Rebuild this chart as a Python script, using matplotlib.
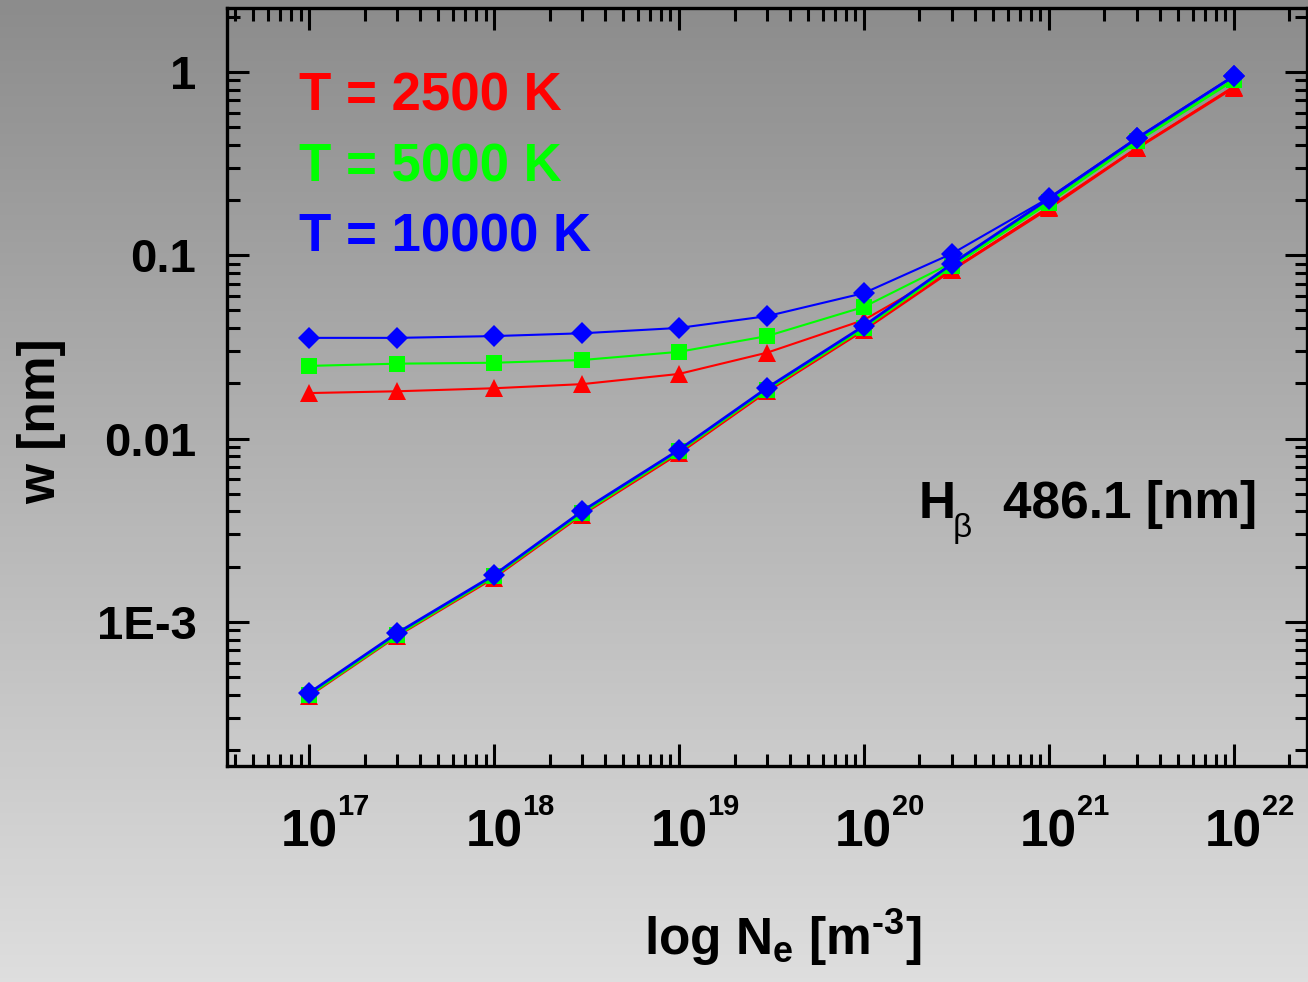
import numpy as np
import matplotlib
matplotlib.use("Agg")
import matplotlib.pyplot as plt

plt.rcParams['font.family'] = ['Liberation Sans', 'DejaVu Sans']
plt.rcParams['font.weight'] = 'bold'
plt.rcParams['mathtext.fontset'] = 'custom'
plt.rcParams['mathtext.rm'] = 'Liberation Sans:bold'
plt.rcParams['mathtext.it'] = 'Liberation Sans:bold'
plt.rcParams['mathtext.bf'] = 'Liberation Sans:bold'

# electron density [m^-3]
ne = [1e17, 3e17, 1e18, 3e18, 1e19, 3e19, 1e20, 3e20, 1e21, 3e21, 1e22]

# upper curves (flatten at low density)
w_2500_up = [0.0177, 0.0181, 0.0188, 0.0198, 0.0225, 0.0294, 0.0443, 0.0833, 0.183, 0.385, 0.83]
w_5000_up = [0.0249, 0.0256, 0.0259, 0.0268, 0.0297, 0.0362, 0.0522, 0.0909, 0.195, 0.420, 0.905]
w_10000_up = [0.0354, 0.0354, 0.0362, 0.0375, 0.0401, 0.0465, 0.0621, 0.102, 0.205, 0.436, 0.95]

# lower curves (straight power law)
w_2500_lo = [3.95e-4, 8.4e-4, 1.74e-3, 3.85e-3, 8.3e-3, 0.0181, 0.0390, 0.083, 0.180, 0.383, 0.82]
w_5000_lo = [4.0e-4, 8.5e-4, 1.77e-3, 3.92e-3, 8.5e-3, 0.0185, 0.0400, 0.087, 0.193, 0.418, 0.90]
w_10000_lo = [4.09e-4, 8.7e-4, 1.80e-3, 4.02e-3, 8.67e-3, 0.0189, 0.0411, 0.0897, 0.203, 0.434, 0.945]

labels = ['T = 2500 K', 'T = 5000 K', 'T = 10000 K']
colors = ['#ff0000', '#00ff00', '#0000ff']
markers = ['^', 's', 'D']
msizes = [13, 11, 11]

xtick_vals = [1e17, 1e18, 1e19, 1e20, 1e21, 1e22]
xtick_exps = ['17', '18', '19', '20', '21', '22']
ytick_vals = [1e-3, 1e-2, 1e-1, 1]
ytick_labels = ['1E-3', '0.01', '0.1', '1']

fig = plt.figure(figsize=(13.08, 9.82), dpi=100)

# gray gradient background, darker at the top
bg = fig.add_axes([0, 0, 1, 1], zorder=0)
g = np.linspace(140, 222, 256) / 255.0
grad = np.repeat(g.reshape(-1, 1, 1), 3, axis=2)
bg.imshow(grad, aspect='auto', extent=[0, 1, 0, 1], origin='upper')
bg.axis('off')

ax = fig.add_axes([0.1735, 0.22, 0.8255, 0.772], zorder=1)
ax.patch.set_alpha(0)

ups = [w_2500_up, w_5000_up, w_10000_up]
los = [w_2500_lo, w_5000_lo, w_10000_lo]
for up, lo, c, m, ms in zip(ups, los, colors, markers, msizes):
    ax.plot(ne, up, color=c, lw=1.5, marker=m, ms=ms, mec=c, mew=0)
    ax.plot(ne, lo, color=c, lw=2.0, marker=m, ms=ms, mec=c, mew=0)

ax.set_xscale('log')
ax.set_yscale('log')
ax.set_xlim(10**16.556, 10**22.395)
ax.set_ylim(10**-3.786, 10**0.349)

ax.set_xticks(xtick_vals)
ax.set_xticklabels([''] * len(xtick_vals))
ax.set_yticks(ytick_vals)
ax.set_yticklabels(ytick_labels)

# x tick labels: "10" centred on the tick, exponent hanging to the right
for v, e in zip(xtick_vals, xtick_exps):
    ax.annotate('10', xy=(v, 0), xycoords=('data', 'axes fraction'),
                xytext=(0, -58.3), textcoords='offset points',
                ha='center', va='baseline', fontsize=37, fontweight='bold')
    ax.annotate(e, xy=(v, 0), xycoords=('data', 'axes fraction'),
                xytext=(20.5, -35.3), textcoords='offset points',
                ha='left', va='baseline', fontsize=21, fontweight='bold')

ax.tick_params(which='both', direction='in', top=True, right=True, width=2.2, color='black')
ax.tick_params(which='major', length=16)
ax.tick_params(which='minor', length=9)
ax.tick_params(axis='y', which='major', labelsize=34, pad=22)
for s in ax.spines.values():
    s.set_linewidth(2.4)

ax.set_xlabel(r'log N$_e$ [m$^{\text{-}3}$]', fontsize=37, fontweight='bold')
ax.xaxis.label.set_va('baseline')
ax.xaxis.set_label_coords(0.5144, -0.2493)
ax.set_ylabel('w [nm]', fontsize=37, fontweight='bold')
ax.yaxis.label.set_va('center')
ax.yaxis.set_label_coords(-0.172, 0.455)

for i, (lab, c) in enumerate(zip(labels, colors)):
    ax.text(0.067, 0.864 - i * 0.0925, lab, color=c, fontsize=38, fontweight='bold',
            transform=ax.transAxes, va='baseline')

ax.text(0.6404, 0.3272, 'H', fontsize=37, fontweight='bold',
        transform=ax.transAxes, va='baseline')
ax.text(0.6725, 0.302, 'β', fontsize=24, fontweight='normal',
        transform=ax.transAxes, va='baseline')
ax.text(0.7183, 0.3272, '486.1 [nm]', fontsize=37, fontweight='bold',
        transform=ax.transAxes, va='baseline')

fig.savefig('out.png', dpi=100)
